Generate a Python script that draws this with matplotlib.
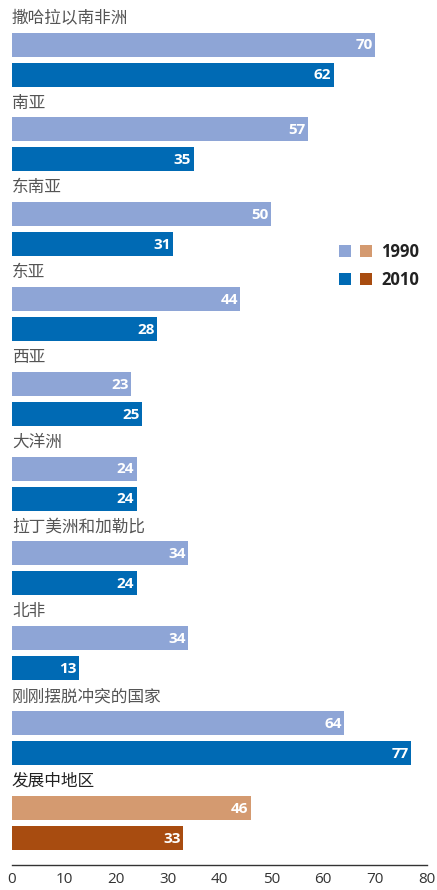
import matplotlib.pyplot as plt
from matplotlib.patches import Rectangle

plt.rcParams["font.family"] = ["Noto Sans CJK SC", "DejaVu Sans"]

# ---------------------------------------------------------------------------
# Data
# ---------------------------------------------------------------------------
regions = [
    "撒哈拉以南非洲", "南亚", "东南亚", "东亚", "西亚", "大洋洲",
    "拉丁美洲和加勒比", "北非", "刚刚摆脱冲突的国家", "发展中地区",
]
values_1990 = [70, 57, 50, 44, 23, 24, 34, 34, 64, 46]
values_2010 = [62, 35, 31, 28, 25, 24, 24, 13, 77, 33]
legend_labels = ["1990", "2010"]
x_ticks = [0, 10, 20, 30, 40, 50, 60, 70, 80]

# colours: regular regions vs. developing-region total
c1990, c2010 = "#8EA5D6", "#006AB4"
c1990_dev, c2010_dev = "#D49A70", "#A84C10"

# layout (one group = 1 y-unit)
bar_h = 0.283
offset2 = 0.354
label_off = -0.31

fig = plt.figure(figsize=(4.37, 8.90), dpi=100)
ax = fig.add_axes([12 / 437, 25 / 890, 415 / 437, 865 / 890])
ax.set_xlim(0, 80)
ax.set_ylim(9.675, -0.525)

n = len(regions)
for i, (name, v1, v2) in enumerate(zip(regions, values_1990, values_2010)):
    dev = i == n - 1
    col1 = c1990_dev if dev else c1990
    col2 = c2010_dev if dev else c2010
    ax.barh(i, v1, height=bar_h, color=col1, linewidth=0)
    ax.barh(i + offset2, v2, height=bar_h, color=col2, linewidth=0)
    for y, v in ((i, v1), (i + offset2, v2)):
        ax.text(v - 0.45, y + 0.01, str(v), ha="right", va="center",
                color="white", fontsize=11, fontweight="bold",
                family=["Open Sans", "DejaVu Sans"])
    ax.text(0, i + label_off, name, ha="left", va="center",
            fontsize=12, color="#222222" if dev else "#555555",
            fontweight="medium" if dev else "normal")

# axes styling
for side in ("top", "right", "left"):
    ax.spines[side].set_visible(False)
ax.spines["bottom"].set_color("#333333")
ax.spines["bottom"].set_linewidth(1.0)
ax.set_yticks([])
ax.set_xticks(x_ticks)
ax.tick_params(axis="x", length=0, pad=5, labelsize=11, labelcolor="#333333")
for lbl in ax.get_xticklabels():
    lbl.set_family(["Open Sans", "DejaVu Sans"])

# legend drawn in figure pixels
def px(x, y):
    return x / 437, 1 - y / 890

for row, (lab, ca, cb) in enumerate(zip(legend_labels, (c1990, c2010), (c1990_dev, c2010_dev))):
    top = 245 + row * 28
    for xs, c in ((339, ca), (360, cb)):
        x0, y0 = px(xs, top + 12)
        fig.add_artist(Rectangle((x0, y0), 12 / 437, 12 / 890, color=c,
                                 transform=fig.transFigure, linewidth=0))
    tx, ty = px(381, top + 7)
    fig.text(tx, ty, lab, ha="left", va="center", fontsize=12,
             fontweight="bold", color="#222222",
             family=["Open Sans", "DejaVu Sans"])

fig.savefig("out.png", dpi=100)
